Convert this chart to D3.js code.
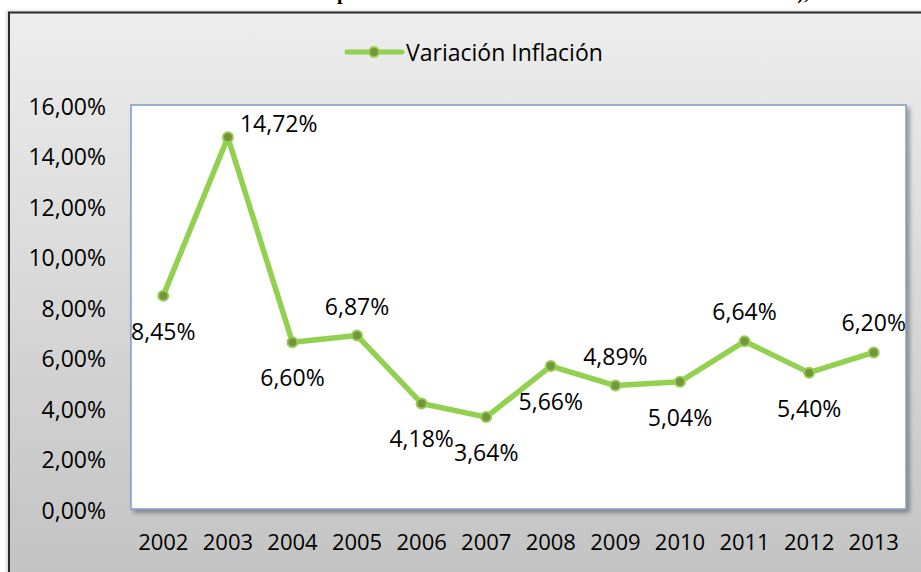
<!DOCTYPE html>
<html>
<head>
<meta charset="utf-8">
<script src="https://cdn.jsdelivr.net/npm/d3@7/dist/d3.min.js"></script>
<style>
  html, body { margin: 0; padding: 0; background: #ffffff; }
  svg { display: block; }
  text { font-family: "Open Sans", "Noto Sans", sans-serif; fill: #000; }
</style>
</head>
<body>
<svg id="chart" width="921" height="572"></svg>
<script>
// ---- data ----
const years = ["2002","2003","2004","2005","2006","2007","2008","2009","2010","2011","2012","2013"];
const inflation = [8.45, 14.72, 6.60, 6.87, 4.18, 3.64, 5.66, 4.89, 5.04, 6.64, 5.40, 6.20];
const labelPlacement = ["below","right","below","above","below","below","below","above","below","above","below","above"];
const yTicks = [0, 2, 4, 6, 8, 10, 12, 14, 16];
const seriesName = "Variación Inflación";
const titleText = "Comportamiento de la Inflación en el Ecuador 2002 – 2013),";

const fmt = v => v.toFixed(2).replace(".", ",") + "%";

const W = 921, H = 572;
const svg = d3.select("#chart");
const defs = svg.append("defs");

const grad = defs.append("linearGradient").attr("id", "bg").attr("x1", 0).attr("y1", 0).attr("x2", 0).attr("y2", 1);
grad.append("stop").attr("offset", "0%").attr("stop-color", "#ededed");
grad.append("stop").attr("offset", "100%").attr("stop-color", "#c1c1c1");

const sh = defs.append("filter").attr("id", "shadow").attr("x", "-5%").attr("y", "-5%").attr("width", "115%").attr("height", "115%");
sh.append("feDropShadow").attr("dx", 3).attr("dy", 3).attr("stdDeviation", 2).attr("flood-color", "#000").attr("flood-opacity", 0.35);

const sh2 = defs.append("filter").attr("id", "shadow2").attr("x", "-5%").attr("y", "-5%").attr("width", "115%").attr("height", "115%");
sh2.append("feDropShadow").attr("dx", -2).attr("dy", -1).attr("stdDeviation", 1.5).attr("flood-color", "#000").attr("flood-opacity", 0.15);

// cut-off title above the frame (only descenders visible, as in the reference)
svg.append("text")
  .attr("x", 296).attr("y", -1)
  .style("font-family", "'Liberation Serif', 'DejaVu Serif', serif")
  .style("font-weight", "bold")
  .style("font-size", "20px")
  .text(titleText);

// chart frame
svg.append("rect")
  .attr("x", 9).attr("y", 12.5).attr("width", W + 20).attr("height", H + 20)
  .attr("fill", "url(#bg)").attr("stroke", "#2b2b2b").attr("stroke-width", 2)
  .attr("filter", "url(#shadow2)");

// plot area
const plot = { left: 131, top: 105, right: 906, bottom: 509 };

const x = d3.scaleBand().domain(years).range([plot.left, plot.right]).paddingInner(0).paddingOuter(0);
const y = d3.scaleLinear().domain([0, 16]).range([plot.bottom, plot.top]);

svg.append("rect")
  .attr("x", plot.left).attr("y", plot.top)
  .attr("width", plot.right - plot.left).attr("height", plot.bottom - plot.top)
  .attr("fill", "#ffffff").attr("stroke", "#7e9cc8").attr("stroke-width", 1.5)
  .attr("filter", "url(#shadow)");

// y axis (labels only)
const yAxis = d3.axisLeft(y).tickValues(yTicks).tickFormat(d => fmt(d)).tickSize(0).tickPadding(0);
const gy = svg.append("g").attr("transform", `translate(${plot.left - 25},2)`).call(yAxis);
gy.select(".domain").remove();
gy.selectAll("text").style("font-family", "'Open Sans', sans-serif").style("font-size", "23px").attr("fill", "#000");

// x axis (labels only)
const xAxis = d3.axisBottom(x).tickSize(0).tickPadding(0);
const gx = svg.append("g").attr("transform", `translate(0,${plot.bottom + 25})`).call(xAxis);
gx.select(".domain").remove();
gx.selectAll("text").style("font-family", "'Open Sans', sans-serif").style("font-size", "22px").attr("fill", "#000");

const cx = d => x(d) + x.bandwidth() / 2;
const pts = years.map((yr, i) => ({ yr, v: inflation[i], pos: labelPlacement[i] }));

// line
const line = d3.line().x(d => cx(d.yr)).y(d => y(d.v));
svg.append("path").datum(pts)
  .attr("d", line).attr("fill", "none")
  .attr("stroke", "#92d050").attr("stroke-width", 5.5)
  .attr("stroke-linejoin", "round").attr("stroke-linecap", "round");

// markers
svg.selectAll("circle.mk").data(pts).enter().append("circle").attr("class", "mk")
  .attr("cx", d => cx(d.yr)).attr("cy", d => y(d.v)).attr("r", 5)
  .attr("fill", "#77933c").attr("stroke", "#92d050").attr("stroke-width", 2);

// data labels
svg.selectAll("text.dl").data(pts).enter().append("text").attr("class", "dl")
  .attr("x", d => d.pos === "right" ? cx(d.yr) + 12 : cx(d.yr))
  .attr("y", d => d.pos === "above" ? y(d.v) - 30 : d.pos === "below" ? y(d.v) + 35 : y(d.v) - 14)
  .attr("text-anchor", d => d.pos === "right" ? "start" : "middle")
  .attr("dominant-baseline", "central")
  .style("font-size", "23px")
  .text(d => fmt(d.v));

// legend
const lg = svg.append("g").attr("transform", "translate(347,52)");
lg.append("line").attr("x1", 0).attr("x2", 55).attr("y1", 0).attr("y2", 0)
  .attr("stroke", "#92d050").attr("stroke-width", 5).attr("stroke-linecap", "round");
lg.append("circle").attr("cx", 27).attr("cy", 0).attr("r", 5)
  .attr("fill", "#77933c").attr("stroke", "#92d050").attr("stroke-width", 2);
lg.append("text").attr("x", 59).attr("y", 0).attr("dominant-baseline", "central")
  .style("font-size", "23px").text(seriesName);
</script>
</body>
</html>
